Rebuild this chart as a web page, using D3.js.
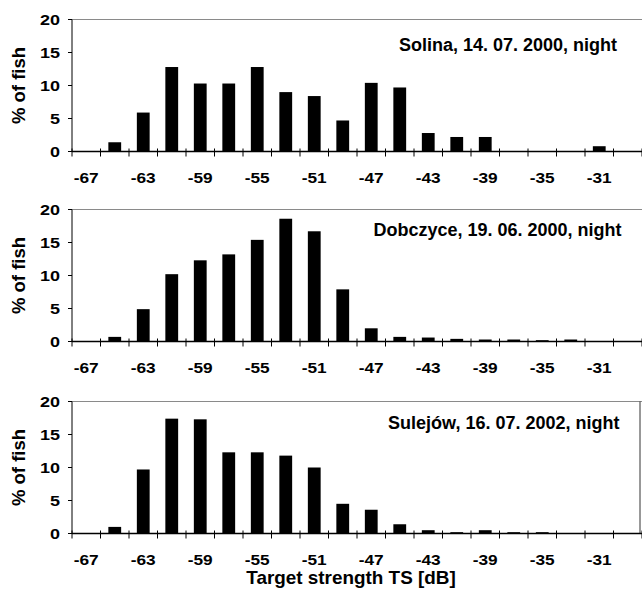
<!DOCTYPE html>
<html>
<head>
<meta charset="utf-8">
<script src="https://cdn.jsdelivr.net/npm/d3@7/dist/d3.min.js"></script>
<style>
  html, body { margin: 0; padding: 0; background: #fff; }
  svg { display: block; }
  text { font-family: "Liberation Sans", Arial, sans-serif; font-weight: bold; fill: #000; }
</style>
</head>
<body>
<svg id="chart" width="642" height="597"></svg>
<script>
// ---- data ----
const categories = [-67, -65, -63, -61, -59, -57, -55, -53, -51, -49, -47, -45, -43, -41, -39, -37, -35, -33, -31, -29];
const tickLabels = ["-67", "-63", "-59", "-55", "-51", "-47", "-43", "-39", "-35", "-31"];
const yTicks = [0, 5, 10, 15, 20];
const solina   = [0, 1.4, 5.9, 12.8, 10.3, 10.3, 12.8, 9.0, 8.4, 4.7, 10.4, 9.7, 2.8, 2.2, 2.2, 0, 0, 0, 0.8, 0];
const dobczyce = [0, 0.7, 4.9, 10.2, 12.3, 13.2, 15.4, 18.6, 16.7, 7.9, 2.0, 0.7, 0.6, 0.4, 0.3, 0.3, 0.2, 0.3, 0, 0];
const sulejow  = [0, 1.0, 9.7, 17.4, 17.3, 12.3, 12.3, 11.8, 10.0, 4.5, 3.6, 1.4, 0.5, 0.2, 0.5, 0.2, 0.2, 0, 0, 0];
const panelLabels = ["Solina, 14. 07. 2000, night", "Dobczyce, 19. 06. 2000, night", "Sulejów, 16. 07. 2002, night"];
const yTitle = "% of fish";
const xTitle = "Target strength TS [dB]";

// ---- layout ----
const series = [solina, dobczyce, sulejow];
const left = 72, right = 642;
const panelTops = [19.5, 209.5, 401.5];
const panelH = 132;
const labelRight = [617, 621.5, 619.5];
const labelBaseOff = [31.5, 26.5, 27];
const rightBorder = [false, false, true];

const svg = d3.select("#chart");

const x = d3.scaleLinear().domain([-68, -28]).range([left, right]);
const barW = 12.8;
const edges = d3.range(-68, -27, 2);

series.forEach((vals, i) => {
  const top = panelTops[i];
  const base = top + panelH;
  const y = d3.scaleLinear().domain([0, 20]).range([base, top]);
  const g = svg.append("g");

  // plot-area border (top, right) in gray
  g.append("line").attr("x1", left).attr("x2", right).attr("y1", top).attr("y2", top)
    .attr("stroke", "#8a8a8a").attr("stroke-width", 1);
  if (rightBorder[i]) {
    g.append("line").attr("x1", right - 2).attr("x2", right - 2).attr("y1", top).attr("y2", base)
      .attr("stroke", "#333").attr("stroke-width", 1);
  }

  // bars
  g.selectAll("rect.bar").data(categories.map((c, k) => ({c, v: vals[k]})).filter(d => d.v > 0))
    .enter().append("rect")
    .attr("x", d => x(d.c) - barW / 2)
    .attr("width", barW)
    .attr("y", d => y(d.v))
    .attr("height", d => y(0) - y(d.v))
    .attr("fill", "#000");

  // y axis line
  g.append("line").attr("x1", left).attr("x2", left).attr("y1", top).attr("y2", base)
    .attr("stroke", "#000").attr("stroke-width", 1);
  // y ticks
  g.selectAll("line.yt").data(yTicks).enter().append("line")
    .attr("x1", left - 4).attr("x2", left)
    .attr("y1", d => y(d)).attr("y2", d => y(d))
    .attr("stroke", "#000").attr("stroke-width", 1);
  g.selectAll("text.yl").data(yTicks).enter().append("text")
    .attr("text-anchor", "end")
    .attr("font-size", 15)
    .attr("transform", d => `translate(${left - 12},${y(d) + 5.5}) scale(1.2,1)`)
    .text(d => d);

  // x axis line
  g.append("line").attr("x1", left).attr("x2", right).attr("y1", base).attr("y2", base)
    .attr("stroke", "#000").attr("stroke-width", 1.3);
  // x ticks (crossing)
  g.selectAll("line.xt").data(edges).enter().append("line")
    .attr("x1", d => x(d)).attr("x2", d => x(d))
    .attr("y1", base - 3).attr("y2", base + 5)
    .attr("stroke", "#000").attr("stroke-width", 1);
  g.selectAll("text.xl").data(tickLabels).enter().append("text")
    .attr("text-anchor", "middle")
    .attr("font-size", 15)
    .attr("transform", d => `translate(${x(+d)},${base + 31}) scale(1.15,1)`)
    .text(d => d);

  // y title
  g.append("text")
    .attr("text-anchor", "middle")
    .attr("font-size", 18.5)
    .attr("transform", `translate(25,${(top + base) / 2}) rotate(-90)`)
    .text(yTitle);

  // panel label
  g.append("text")
    .attr("text-anchor", "end")
    .attr("font-size", 18)
    .attr("x", labelRight[i])
    .attr("y", top + labelBaseOff[i])
    .text(panelLabels[i]);
});

svg.append("text")
  .attr("text-anchor", "middle")
  .attr("font-size", 18)
  .attr("transform", "translate(351,584) scale(1.05,1)")
  .text(xTitle);
</script>
</body>
</html>
